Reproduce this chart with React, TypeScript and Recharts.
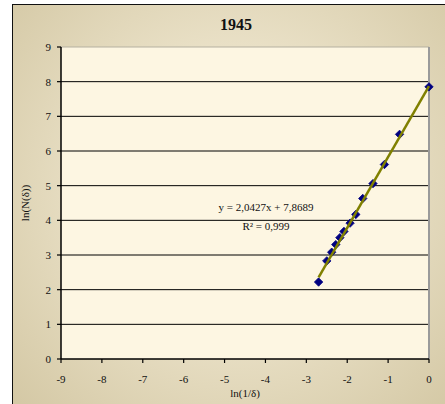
import React from 'react';
import { ScatterChart, Scatter, XAxis, YAxis, CartesianGrid, ReferenceLine } from 'recharts';

const chartTitle = '1945';
const xAxisTitle = 'ln(1/δ)';
const yAxisTitle = 'ln(N(δ))';
const equationText = 'y = 2,0427x + 7,8689';
const r2Text = 'R² = 0,999';

const xValues = [-2.7, -2.5, -2.38, -2.28, -2.18, -2.08, -1.93, -1.79, -1.62, -1.37, -1.09, -0.72, 0.0];
const yValues = [2.22, 2.83, 3.08, 3.3, 3.5, 3.68, 3.92, 4.17, 4.63, 5.06, 5.61, 6.48, 7.85];

const xTicks = [-9, -8, -7, -6, -5, -4, -3, -2, -1, 0];
const yTicks = [0, 1, 2, 3, 4, 5, 6, 7, 8, 9];
const gridValues = [1, 2, 3, 4, 5, 6, 7, 8];

const trendSlope = 2.0427;
const trendIntercept = 7.8689;

const points = xValues.map((x, i) => ({ x, y: yValues[i] }));
const trendX = [Math.min(...xValues), Math.max(...xValues)];
const trendPoints = trendX.map((x) => ({ x, y: trendSlope * x + trendIntercept }));

const FONT = '"Liberation Serif", "Times New Roman", serif';

const Diamond = (props: any) => {
  const { cx, cy } = props;
  if (cx == null || cy == null) return <g />;
  const r = 4.2;
  return (
    <polygon
      points={`${cx},${cy - r} ${cx + r},${cy} ${cx},${cy + r} ${cx - r},${cy}`}
      fill="#000080"
      stroke="#000080"
      strokeWidth={0.8}
    />
  );
};

const NoShape = () => <g />;

export default function App() {
  return (
    <div style={{ position: 'absolute', left: 0, top: 0, width: 445, height: 404, background: '#fff', overflow: 'hidden' }}>
      <div
        style={{
          position: 'absolute',
          left: 12,
          top: 4,
          width: 445,
          height: 410,
          borderLeft: '1px solid #111',
          borderTop: '1px solid #111',
          background: 'radial-gradient(ellipse at 50% 45%, #F2EBD5 0%, #E9E0C6 45%, #D3C7A3 100%)',
        }}
      />
      <div style={{ position: 'absolute', left: 0, top: 0 }}>
        <ScatterChart width={445} height={404} margin={{ top: 47, right: 16, bottom: 15, left: 12 }}>
          <CartesianGrid horizontal={false} vertical={false} fill="#FDF6E2" />
          <XAxis
            type="number"
            dataKey="x"
            domain={[-9, 0]}
            ticks={xTicks}
            interval={0}
            height={30}
            tickSize={4}
            tickMargin={12}
            axisLine={{ stroke: '#000', strokeWidth: 1.5 }}
            tickLine={{ stroke: '#000', strokeWidth: 1.2 }}
            tick={{ fill: '#111', fontSize: 11, fontFamily: FONT }}
            label={{ value: xAxisTitle, position: 'bottom', offset: 0, style: { fill: '#111', fontSize: 11, fontFamily: FONT } }}
          />
          <YAxis
            type="number"
            dataKey="y"
            domain={[0, 9]}
            ticks={yTicks}
            interval={0}
            width={49}
            tickSize={4}
            tickMargin={6}
            axisLine={{ stroke: '#000', strokeWidth: 1.5 }}
            tickLine={{ stroke: '#000', strokeWidth: 1.2 }}
            tick={{ fill: '#111', fontSize: 11, fontFamily: FONT }}
            label={{ value: yAxisTitle, angle: -90, position: 'insideLeft', offset: 13, style: { textAnchor: 'middle', fill: '#111', fontSize: 11, fontFamily: FONT } }}
          />
          {gridValues.map((v) => (
            <ReferenceLine key={v} y={v} stroke="#000" strokeWidth={1} />
          ))}
          <ReferenceLine y={9} stroke="#b5b0a0" strokeWidth={1} />
          <ReferenceLine x={0} stroke="#9a9a9a" strokeWidth={2} />
          <Scatter data={points} shape={Diamond} isAnimationActive={false} />
          <Scatter
            data={trendPoints}
            shape={NoShape}
            line={{ stroke: '#808000', strokeWidth: 2.5 }}
            isAnimationActive={false}
          />
        </ScatterChart>
      </div>
      <svg width={445} height={404} style={{ position: 'absolute', left: 0, top: 0, pointerEvents: 'none' }}>
        <text x={236} y={30} textAnchor="middle" fontFamily={FONT} fontSize={16} fontWeight="bold" fill="#111">
          {chartTitle}
        </text>
        <text x={266} y={210.5} textAnchor="middle" fontFamily={FONT} fontSize={11} fill="#111">
          {equationText}
        </text>
        <text x={266} y={230} textAnchor="middle" fontFamily={FONT} fontSize={11} fill="#111">
          {r2Text}
        </text>
      </svg>
    </div>
  );
}
